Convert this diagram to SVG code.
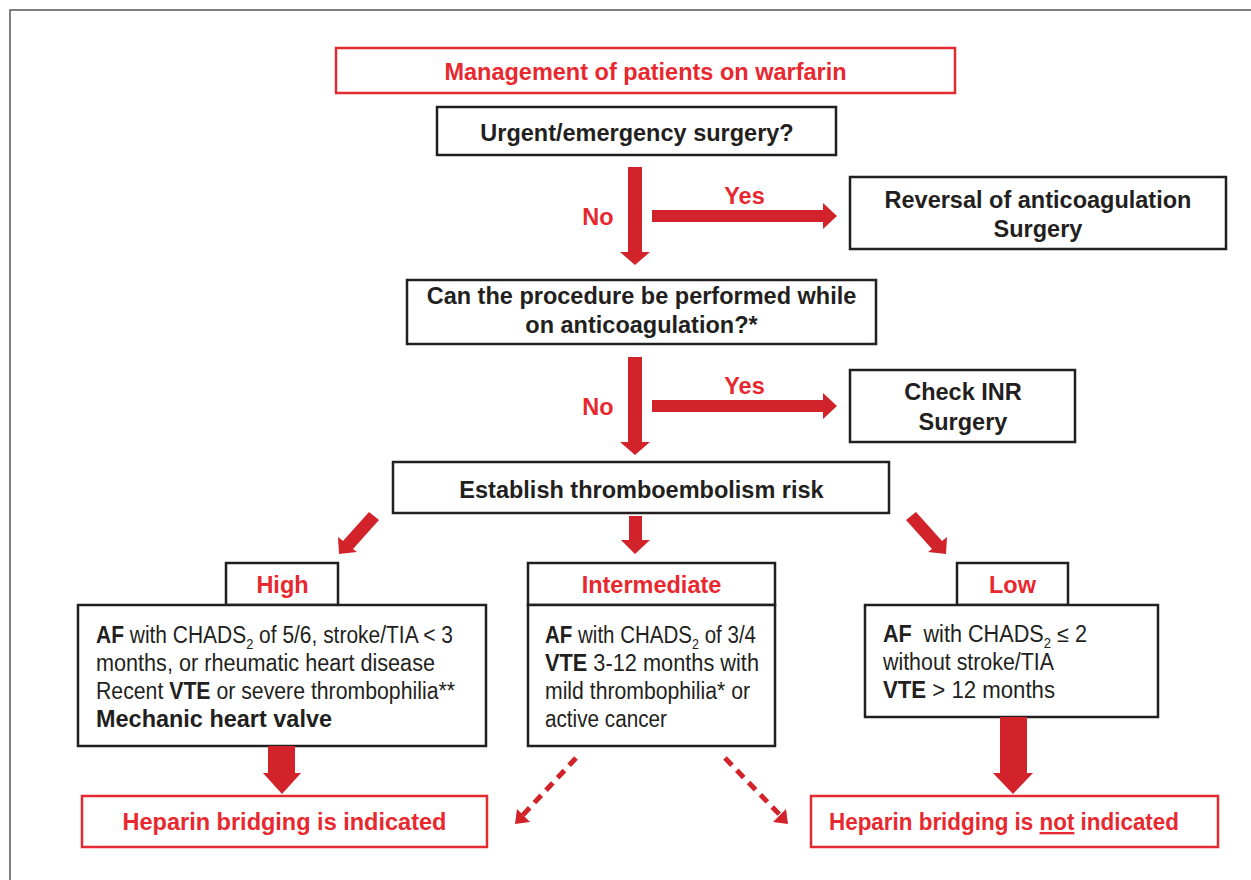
<svg xmlns="http://www.w3.org/2000/svg" width="1251" height="880" viewBox="0 0 1251 880">
<defs>
<style>
.frame{fill:none;stroke:#555;stroke-width:1.5}
.box{fill:#fff;stroke:#231f20;stroke-width:2.5}
.rbox{fill:#fff;stroke:#e32a31;stroke-width:2.5}
.arr{fill:#d2232a}
.dash{fill:none;stroke:#d2232a;stroke-width:5;stroke-dasharray:10 7}
text{font-family:"Liberation Sans",Arial,sans-serif}
.bt{font-size:23.5px;font-weight:bold;fill:#231f20;text-anchor:middle}
.rt{font-size:23.5px;font-weight:bold;fill:#e8282e;text-anchor:middle}
.nt{font-size:23px;fill:#231f20}
.b{font-weight:bold}
.sub{font-size:14px}
</style>
</defs>
<rect class="frame" x="10" y="10" width="1260" height="890"/>

<g id="title"><rect class="rbox" x="336" y="48" width="619" height="45"/><text class="rt" x="645.5" y="80">Management of patients on warfarin</text></g>
<g id="urgent"><rect class="box" x="437" y="107" width="399" height="48"/><text class="bt" x="637" y="141">Urgent/emergency surgery?</text></g>
<g id="reversal"><rect class="box" x="850" y="177" width="376" height="72"/><text class="bt" x="1038" y="208">Reversal of anticoagulation</text><text class="bt" x="1038" y="237">Surgery</text></g>
<g id="procedure"><rect class="box" x="407" y="280" width="469" height="64"/><text class="bt" x="641.5" y="304">Can the procedure be performed while</text><text class="bt" x="641.5" y="333">on anticoagulation?*</text></g>
<g id="checkinr"><rect class="box" x="850" y="370" width="225" height="72"/><text class="bt" x="963" y="400">Check INR</text><text class="bt" x="963" y="430">Surgery</text></g>
<g id="establish"><rect class="box" x="393" y="462" width="496" height="51"/><text class="bt" x="641.5" y="498">Establish thromboembolism risk</text></g>

<g id="high"><rect class="box" x="226" y="563" width="112" height="42"/><text class="rt" x="282.5" y="593">High</text>
<rect class="box" x="78" y="605" width="408" height="141"/>
<text class="nt" x="96" y="643" textLength="357" lengthAdjust="spacingAndGlyphs"><tspan class="b">AF</tspan> with CHADS<tspan class="sub" dy="6">2</tspan><tspan dy="-6"> of 5/6, stroke/TIA &lt; 3</tspan></text>
<text class="nt" x="96" y="671" textLength="339" lengthAdjust="spacingAndGlyphs">months, or rheumatic heart disease</text>
<text class="nt" x="96" y="699" textLength="359" lengthAdjust="spacingAndGlyphs">Recent <tspan class="b">VTE</tspan> or severe thrombophilia**</text>
<text class="nt b" x="96" y="727" textLength="236" lengthAdjust="spacingAndGlyphs">Mechanic heart valve</text></g>

<g id="intermediate"><rect class="box" x="528" y="563" width="247" height="42"/><text class="rt" x="651.5" y="593">Intermediate</text>
<rect class="box" x="528" y="605" width="247" height="141"/>
<text class="nt" x="545" y="643" textLength="211" lengthAdjust="spacingAndGlyphs"><tspan class="b">AF</tspan> with CHADS<tspan class="sub" dy="6">2</tspan><tspan dy="-6"> of 3/4</tspan></text>
<text class="nt" x="545" y="671" textLength="214" lengthAdjust="spacingAndGlyphs"><tspan class="b">VTE</tspan> 3-12 months with</text>
<text class="nt" x="545" y="699" textLength="205" lengthAdjust="spacingAndGlyphs">mild thrombophilia* or</text>
<text class="nt" x="545" y="727" textLength="122" lengthAdjust="spacingAndGlyphs">active cancer</text></g>

<g id="low"><rect class="box" x="957" y="563" width="111" height="42"/><text class="rt" x="1012.5" y="593">Low</text>
<rect class="box" x="865" y="605" width="293" height="112"/>
<text class="nt" x="883" y="642" textLength="204" lengthAdjust="spacingAndGlyphs"><tspan class="b">AF</tspan><tspan dx="6"> with CHADS</tspan><tspan class="sub" dy="6">2</tspan><tspan dy="-6"> ≤ 2</tspan></text>
<text class="nt" x="883" y="670" textLength="171" lengthAdjust="spacingAndGlyphs">without stroke/TIA</text>
<text class="nt" x="883" y="698" textLength="172" lengthAdjust="spacingAndGlyphs"><tspan class="b">VTE</tspan> &gt; 12 months</text></g>

<g id="indicated"><rect class="rbox" x="82" y="796" width="405" height="51"/><text class="rt" x="284.5" y="830">Heparin bridging is indicated</text></g>
<g id="notindicated"><rect class="rbox" x="811" y="796" width="407" height="51"/><text class="rt" x="1004" y="830" textLength="350" lengthAdjust="spacingAndGlyphs">Heparin bridging is <tspan text-decoration="underline">not</tspan> indicated</text></g>

<g id="connectors">
<polygon class="arr" points="628,167 642,167 642,252 650,252 635,265 620,252 628,252"/>
<polygon class="arr" points="652,210 823,210 823,203 837,216 823,229 823,222 652,222"/>
<text class="rt" x="598" y="225">No</text><text class="rt" x="744.5" y="204">Yes</text>
<polygon class="arr" points="628,357 642,357 642,442 650,442 635,455 620,442 628,442"/>
<polygon class="arr" points="652,400 823,400 823,393 837,406 823,419 823,412 652,412"/>
<text class="rt" x="598" y="415">No</text><text class="rt" x="744.5" y="394">Yes</text>
<polygon class="arr" points="629,516 642,516 642,540 650,540 635,554 621,540 629,540"/>
<polygon class="arr" points="369,512 379,520 353,549 357,552 339,554 338,537 343,541"/>
<polygon class="arr" points="916,512 906,520 932,549 928,552 946,554 947,537 942,541"/>
<polygon class="arr" points="268,746 295,746 295,773 301,773 282,794 263,773 268,773"/>
<polygon class="arr" points="1000,717 1027,717 1027,773 1033,773 1013,794 993,773 1000,773"/>
<line class="dash" x1="576" y1="758" x2="522" y2="816"/>
<polygon class="arr" points="515,824 517,809 530,822"/>
<line class="dash" x1="725" y1="758" x2="781" y2="816"/>
<polygon class="arr" points="788,824 786,809 773,822"/>
</g>
</svg>
